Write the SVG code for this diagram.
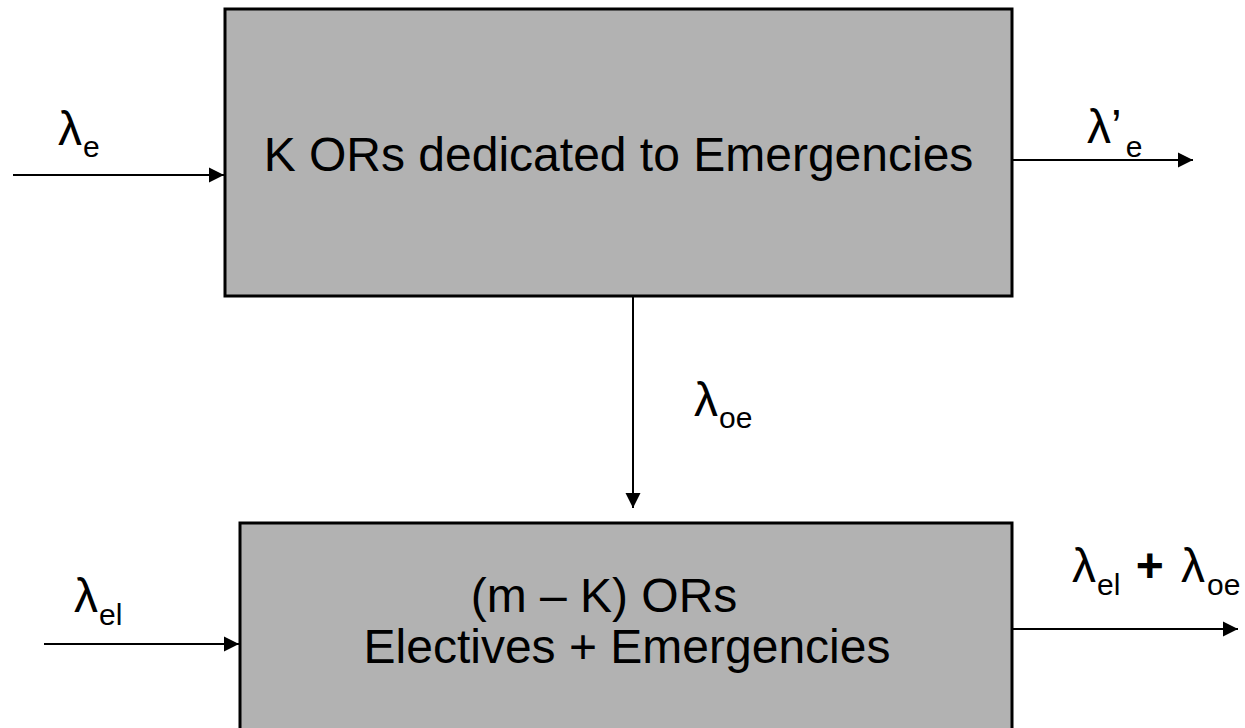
<svg xmlns="http://www.w3.org/2000/svg" width="1245" height="728" viewBox="0 0 1245 728">
<style>
.box{fill:#b2b2b2;stroke:#000;stroke-width:3}
.t{font-family:"Liberation Sans",Arial,sans-serif;fill:#000}
.big{font-size:48px}
.sub{font-size:30px}
.line{stroke:#000;stroke-width:2;fill:none}
</style>
<defs>
<marker id="ah" viewBox="0 0 10 10" refX="10" refY="5" markerWidth="15" markerHeight="16" markerUnits="userSpaceOnUse" orient="auto">
<path d="M0,0 L10,5 L0,10 z" fill="#000"/>
</marker>
</defs>
<rect width="1245" height="728" fill="#fff"/>
<g id="node-top">
<rect class="box" x="225" y="9" width="787" height="287"/>
<text class="t big" x="618.5" y="171" text-anchor="middle">K ORs dedicated to Emergencies</text>
</g>
<g id="node-bottom">
<rect class="box" x="240" y="523" width="772" height="220"/>
<text class="t big" x="604" y="612" text-anchor="middle">(m – K) ORs</text>
<text class="t big" x="627" y="663" text-anchor="middle">Electives + Emergencies</text>
</g>
<g id="connectors">
<line class="line" x1="13" y1="175" x2="224" y2="175" marker-end="url(#ah)"/>
<line class="line" x1="1012" y1="160" x2="1193" y2="160" marker-end="url(#ah)"/>
<line class="line" x1="633" y1="296" x2="633" y2="508" marker-end="url(#ah)"/>
<line class="line" x1="44" y1="644" x2="239" y2="644" marker-end="url(#ah)"/>
<line class="line" x1="1012" y1="629" x2="1238" y2="629" marker-end="url(#ah)"/>
</g>
<g id="labels">
<text class="t big" x="58" y="145">λ<tspan class="sub" dy="12" dx="1">e</tspan></text>
<text class="t big" x="1087" y="143">λ’<tspan class="sub" dy="14" dx="4">e</tspan></text>
<text class="t big" x="694" y="416">λ<tspan class="sub" dy="12" dx="1">oe</tspan></text>
<text class="t big" x="74" y="612">λ<tspan class="sub" dy="13" dx="1">el</tspan></text>
<text class="t big" x="1072" y="582">λ<tspan class="sub" dy="13" dx="1">el</tspan><tspan dy="-13" dx="2" font-weight="bold"> +</tspan><tspan dx="4"> λ</tspan><tspan class="sub" dy="13" dx="2">oe</tspan></text>
</g>
</svg>
